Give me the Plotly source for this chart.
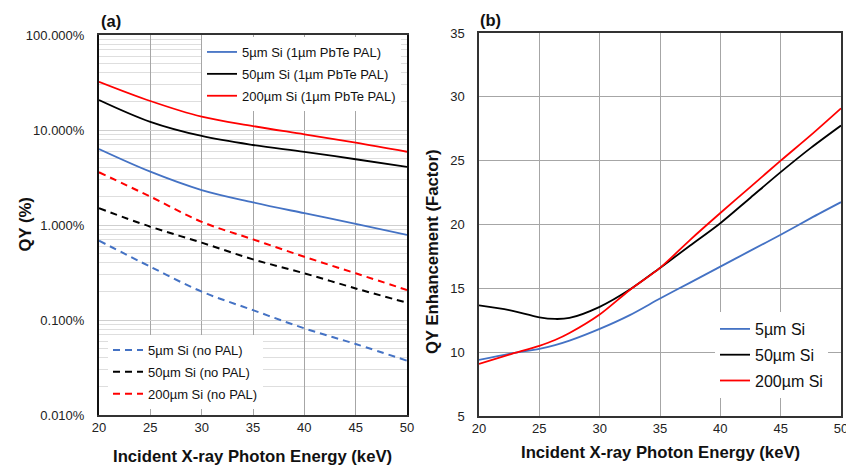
import plotly.graph_objects as go

W, H = 846, 465

# ---------------- Data ----------------
energy = [20, 25, 30, 35, 40, 45, 50]  # keV

qy_5_pal = [6.3, 3.64, 2.33, 1.73, 1.33, 1.03, 0.785]
qy_50_pal = [20.7, 12.2, 8.65, 6.95, 5.9, 4.92, 4.1]
qy_200_pal = [32.2, 20.2, 13.8, 11.0, 9.0, 7.35, 5.9]
qy_5_nopal = [0.684, 0.364, 0.199, 0.127, 0.0817, 0.0559, 0.0373]
qy_50_nopal = [1.50, 0.96, 0.652, 0.435, 0.31, 0.215, 0.152]
qy_200_nopal = [3.59, 1.99, 1.08, 0.706, 0.463, 0.31, 0.207]

energy_b = [20, 22.5, 25, 26.3, 27.5, 30, 32.5, 35, 37.5, 40, 42.5, 45, 47.5, 50]
enh_5 = [9.39, 9.87, 10.26, 10.55, 10.9, 11.82, 12.9, 14.2, 15.45, 16.7, 17.95, 19.2, 20.5, 21.75]
enh_50 = [13.66, 13.29, 12.73, 12.6, 12.68, 13.55, 14.9, 16.6, 18.35, 20.1, 22.1, 24.1, 26.0, 27.75]
enh_200 = [9.08, 9.81, 10.5, 10.95, 11.5, 12.95, 14.87, 16.6, 18.8, 20.9, 22.95, 25.0, 27.0, 29.1]

y_ticks_a = [0.01, 0.1, 1, 10, 100]
y_ticklabels_a = ["0.010%", "0.100%", "1.000%", "10.000%", "100.000%"]

BLUE = "#4472C4"
BLACK = "#000000"
RED = "#FF0000"
FONT = "Liberation Sans, Arial, sans-serif"

fig = go.Figure()

# ---------------- Panel (a) ----------------
solid = [("5µm Si (1µm PbTe PAL)", qy_5_pal, BLUE),
         ("50µm Si (1µm PbTe PAL)", qy_50_pal, BLACK),
         ("200µm Si (1µm PbTe PAL)", qy_200_pal, RED)]
for i, (name, vals, col) in enumerate(solid):
    fig.add_trace(go.Scatter(x=energy, y=vals, name=name, mode="lines",
                             line=dict(color=col, width=1.8, shape="spline"),
                             legendgroup=f"a{i}",
                             xaxis="x", yaxis="y", legend="legend"))
dashed = [("5µm Si (no PAL)", qy_5_nopal, BLUE),
          ("50µm Si (no PAL)", qy_50_nopal, BLACK),
          ("200µm Si (no PAL)", qy_200_nopal, RED)]
for i, (name, vals, col) in enumerate(dashed):
    fig.add_trace(go.Scatter(x=energy, y=vals, name=name, mode="lines",
                             line=dict(color=col, width=2, dash="7px,5px", shape="spline"),
                             legendgroup=f"b{i}",
                             xaxis="x", yaxis="y", legend="legend2"))

# ---------------- Panel (b) ----------------
for i, (name, vals, col) in enumerate([("5µm Si", enh_5, BLUE), ("50µm Si", enh_50, BLACK),
                                       ("200µm Si", enh_200, RED)]):
    fig.add_trace(go.Scatter(x=energy_b, y=vals, name=name, mode="lines",
                             line=dict(color=col, width=1.8, shape="spline", smoothing=0.8),
                             legendgroup=f"c{i}",
                             xaxis="x2", yaxis="y2", legend="legend3"))

def px_x(p):
    return p / W

def px_y(p):
    return 1 - p / H

tickfont = dict(family=FONT, size=13, color="#222")
minor_vals = [m * 10 ** k for k in range(-2, 2) for m in range(2, 10)]
legfont = dict(family=FONT, size=13, color="#111")

fig.update_layout(
    width=W, height=H,
    margin=dict(l=0, r=0, t=0, b=0, autoexpand=False),
    paper_bgcolor="white", plot_bgcolor="white",
    font=dict(family=FONT, size=13, color="#111"),
    xaxis=dict(domain=[px_x(99), px_x(407)], range=[20, 50], dtick=5, tick0=20,
               showgrid=True, gridcolor="#a6a6a6", gridwidth=1.2,
               showline=True, linecolor="#333", linewidth=1.5, mirror=True,
               ticks="", tickfont=tickfont, zeroline=False, anchor="y"),
    yaxis=dict(domain=[px_y(415), px_y(35)], type="log", range=[-2, 2],
               tickvals=y_ticks_a, ticktext=y_ticklabels_a,
               showgrid=True, gridcolor="#cfcfcf", gridwidth=1,
               minor=dict(tickvals=minor_vals, showgrid=True, gridcolor="#dedede", gridwidth=1),
               showline=True, linecolor="#111", linewidth=2, mirror=True,
               ticks="", tickfont=tickfont, ticklabelstandoff=10, zeroline=False, anchor="x"),
    xaxis2=dict(domain=[px_x(479), px_x(841)], range=[20, 50], dtick=5, tick0=20,
                showgrid=True, gridcolor="#a6a6a6", gridwidth=1.2,
                showline=True, linecolor="#333", linewidth=1.5, mirror=True,
                ticks="", tickfont=tickfont, zeroline=False, anchor="y2",
                ticklabeloverflow="allow"),
    yaxis2=dict(domain=[px_y(416), px_y(33)], range=[5, 35], dtick=5, tick0=5,
                showgrid=True, gridcolor="#a6a6a6", gridwidth=1.2,
                showline=True, linecolor="#333", linewidth=1.5, mirror=True,
                ticks="", tickfont=tickfont, ticklabelstandoff=10, zeroline=False, anchor="x2"),
    legend=dict(x=px_x(202), y=px_y(37), xanchor="left", yanchor="top",
                bgcolor="white", borderwidth=0, font=legfont,
                tracegroupgap=2, itemwidth=30),
    legend2=dict(x=px_x(108), y=px_y(335), xanchor="left", yanchor="top",
                 bgcolor="white", borderwidth=0, font=legfont,
                 tracegroupgap=2, itemwidth=30),
    legend3=dict(x=px_x(715), y=px_y(312), xanchor="left", yanchor="top",
                 bgcolor="white", borderwidth=0, font=dict(family=FONT, size=16, color="#111"),
                 tracegroupgap=2, itemwidth=30),
    showlegend=True,
)

titlefont = dict(family=FONT, size=16.7, color="#111")
ann = [
    dict(text="<b>(a)</b>", x=px_x(99), y=px_y(21), xanchor="left", yanchor="middle",
         font=dict(family=FONT, size=16.5, color="#111")),
    dict(text="<b>(b)</b>", x=px_x(478), y=px_y(20), xanchor="left", yanchor="middle",
         font=dict(family=FONT, size=16.5, color="#111")),
    dict(text="<b>Incident X-ray Photon Energy (keV)</b>", x=px_x(252), y=px_y(456.5),
         xanchor="center", yanchor="middle", font=titlefont),
    dict(text="<b>Incident X-ray Photon Energy (keV)</b>", x=px_x(660), y=px_y(452.5),
         xanchor="center", yanchor="middle", font=titlefont),
    dict(text="<b>QY (%)</b>", x=px_x(24.5), y=px_y(225), xanchor="center", yanchor="middle",
         textangle=-90, font=titlefont),
    dict(text="<b>QY Enhancement (Factor)</b>", x=px_x(432), y=px_y(251), xanchor="center",
         yanchor="middle", textangle=-90, font=titlefont),
]
for a in ann:
    a.update(xref="paper", yref="paper", showarrow=False)
fig.update_layout(annotations=ann)

fig.write_html("out.html",
               config={"displayModeBar": False},
               post_script="document.body.style.margin='0';document.body.style.padding='0';")
